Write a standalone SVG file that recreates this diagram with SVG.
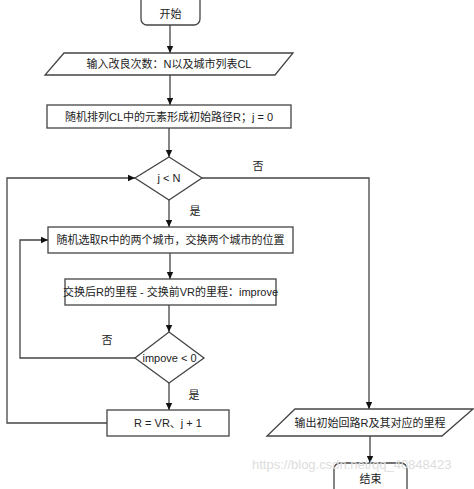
<svg xmlns="http://www.w3.org/2000/svg" width="474" height="489" viewBox="0 0 474 489">
<style>
.s{fill:#fff;stroke:#444;stroke-width:1.3}
.l{fill:none;stroke:#444;stroke-width:1.3}
text{font-family:"Liberation Sans","Noto Sans CJK SC",sans-serif;font-size:11px;fill:#222;text-anchor:middle;dominant-baseline:central}
.wm{font-size:13px;fill:#ddd;text-anchor:start}
</style>
<defs>
<marker id="a" markerWidth="8" markerHeight="8" refX="7" refY="4" orient="auto" markerUnits="userSpaceOnUse">
<path d="M0,0.8 L7,4 L0,7.2 Z" fill="#111"/>
</marker>
</defs>
<rect width="474" height="489" fill="#fff"/>
<g id="connectors">
<path class="l" d="M170,25 V53" marker-end="url(#a)"/>
<path class="l" d="M170,75 V105" marker-end="url(#a)"/>
<path class="l" d="M169,128 V157" marker-end="url(#a)"/>
<path class="l" d="M169,200 V227" marker-end="url(#a)"/>
<path class="l" d="M170,253 V279" marker-end="url(#a)"/>
<path class="l" d="M169,305 V332" marker-end="url(#a)"/>
<path class="l" d="M169,383 V410" marker-end="url(#a)"/>
<path class="l" d="M202,178 H369 V409" marker-end="url(#a)"/>
<path class="l" d="M135,358 H20 V240 H48" marker-end="url(#a)"/>
<path class="l" d="M107,423 H7 V178 H135" marker-end="url(#a)"/>
<path class="l" d="M370,436 V463" marker-end="url(#a)"/>
<text x="258" y="166">否</text>
<text x="195" y="211">是</text>
<text x="107" y="340">否</text>
<text x="194" y="395">是</text>
</g>
<g id="start">
<rect class="s" x="141" y="-6" width="59" height="31" rx="6"/>
<text x="170.5" y="14">开始</text>
</g>
<g id="input">
<polygon class="s" points="64,53 293,53 275,75 45,75"/>
<text x="169" y="64">输入改良次数：N以及城市列表CL</text>
</g>
<g id="init">
<rect class="s" x="47" y="105" width="244" height="23"/>
<text x="169" y="116.5">随机排列CL中的元素形成初始路径R；j = 0</text>
</g>
<g id="cond1">
<polygon class="s" points="169,157 202,178 169,200 135,178"/>
<text x="169" y="178">j &lt; N</text>
</g>
<g id="swap">
<rect class="s" x="48" y="227" width="245" height="26"/>
<text x="170.5" y="240">随机选取R中的两个城市，交换两个城市的位置</text>
</g>
<g id="improve">
<rect class="s" x="65" y="279" width="211" height="26"/>
<text x="170.5" y="292">交换后R的里程 - 交换前VR的里程：improve</text>
</g>
<g id="cond2">
<polygon class="s" points="169,332 204,358 169,383 135,358"/>
<text x="169.5" y="358">impove &lt; 0</text>
</g>
<g id="update">
<rect class="s" x="107" y="410" width="122" height="26"/>
<text x="168" y="423">R = VR、j + 1</text>
</g>
<g id="output">
<polygon class="s" points="295,409 473,409 442,436 267,436"/>
<text x="370" y="423">输出初始回路R及其对应的里程</text>
</g>
<g id="end">
<rect class="s" x="334" y="463" width="73" height="32" rx="6"/>
<text x="370.5" y="479">结束</text>
</g>
<text class="wm" x="252" y="464">https://blog.csdn.net/qq_40848423</text>
</svg>
